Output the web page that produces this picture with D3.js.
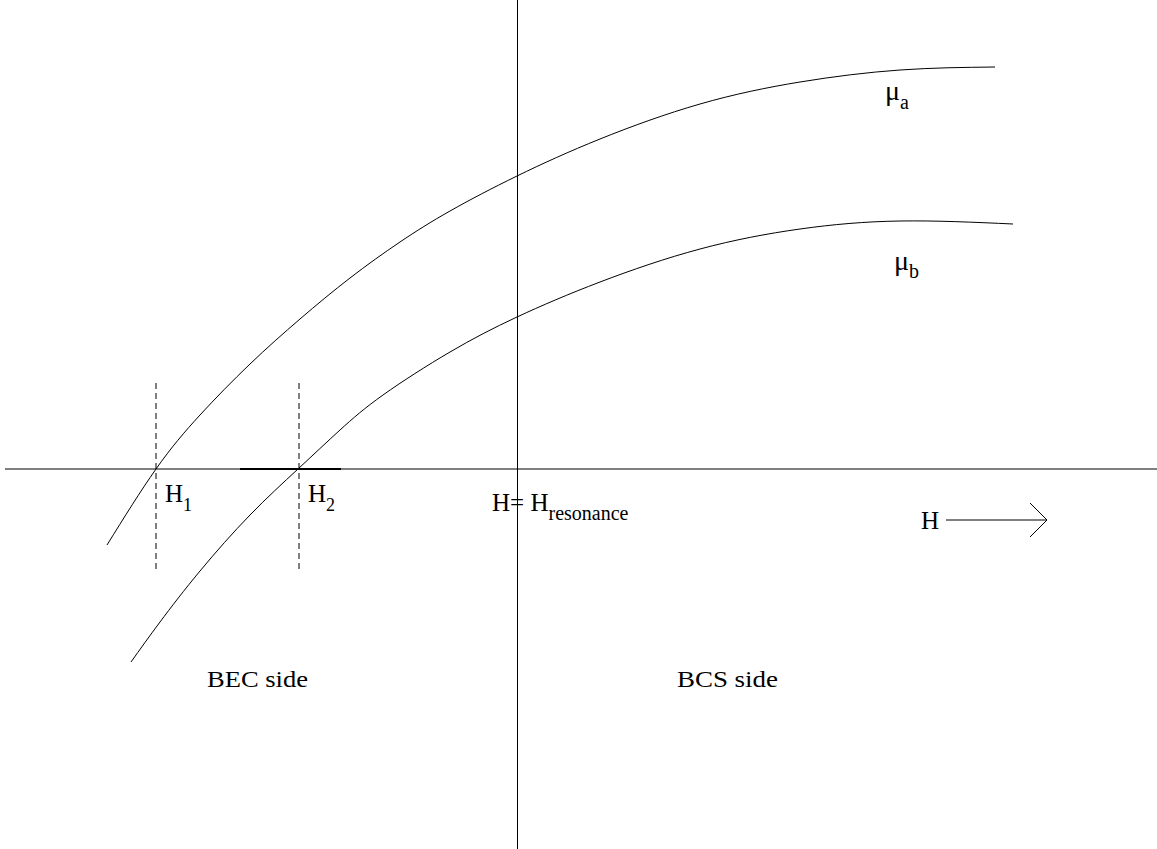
<!DOCTYPE html>
<html>
<head>
<meta charset="utf-8">
<script src="https://cdn.jsdelivr.net/npm/d3@7"></script>
<style>
    html, body { margin: 0; padding: 0; background: #fff; }
    text { font-family: "Liberation Serif", "Times New Roman", serif; fill: #000; }
</style>
</head>
<body>
<div id="contenedor"></div>
<script>
const ANCHO = 1157;
const ALTO = 849;

// H is measured from the resonance, mu from zero (both in arbitrary units)
const curvaA_H = [-4.10, -3.61, -3.17, -2.67, -2.17, -1.67, -1.17, -0.67, 0.00, 0.83, 1.83, 2.83, 3.83, 4.78];
const curvaA_mu = [-0.76, 0.00, 0.54, 1.05, 1.50, 1.91, 2.27, 2.58, 2.93, 3.30, 3.65, 3.87, 3.99, 4.02];
const curvaB_H = [-3.86, -3.57, -3.17, -2.67, -2.19, -1.77, -1.34, -0.67, 0.00, 0.83, 1.83, 2.83, 3.83, 4.96];
const curvaB_mu = [-1.93, -1.53, -1.02, -0.46, 0.00, 0.39, 0.74, 1.17, 1.52, 1.87, 2.20, 2.40, 2.48, 2.45];

const H1 = -3.61;
const H2 = -2.18;
const H_RESONANCIA = 0;
const TRAMO_GRUESO = [-2.77, -1.76];
const LIMITES_H = [-5.12, 6.40];
const GUIA_MU = [-1.03, 0.86];

const x = d3.scaleLinear().domain([-5.17, 6.40]).range([0, ANCHO]);
const y = d3.scaleLinear().domain([-3.80, 4.69]).range([ALTO, 0]);

const $svg = d3.select("#contenedor")
    .append("svg")
    .attr("width", ANCHO)
    .attr("height", ALTO);

// ejes
$svg.append("line")
    .attr("x1", x(LIMITES_H[0])).attr("x2", ANCHO)
    .attr("y1", y(0)).attr("y2", y(0))
    .attr("stroke", "#000").attr("stroke-width", 1);
$svg.append("line")
    .attr("x1", x(TRAMO_GRUESO[0])).attr("x2", x(TRAMO_GRUESO[1]))
    .attr("y1", y(0)).attr("y2", y(0))
    .attr("stroke", "#000").attr("stroke-width", 2);
$svg.append("line")
    .attr("x1", Math.round(x(H_RESONANCIA)) + 0.5).attr("x2", Math.round(x(H_RESONANCIA)) + 0.5)
    .attr("y1", 0).attr("y2", ALTO)
    .attr("stroke", "#000").attr("stroke-width", 1);

// lineas punteadas en H1 y H2
for (const h of [H1, H2]) {
    $svg.append("line")
        .attr("x1", x(h)).attr("x2", x(h))
        .attr("y1", y(GUIA_MU[1])).attr("y2", y(GUIA_MU[0]))
        .attr("stroke", "#000").attr("stroke-width", 1)
        .attr("stroke-dasharray", "6,4");
}

const linea = d3.line()
    .x(d => x(d[0]))
    .y(d => y(d[1]))
    .curve(d3.curveNatural);

const dibujarCurva = (hs, mus) => {
    $svg.append("path")
        .datum(hs.map((h, i) => [h, mus[i]]))
        .attr("d", linea)
        .attr("fill", "none")
        .attr("stroke", "#000")
        .attr("stroke-width", 1);
};
dibujarCurva(curvaA_H, curvaA_mu);
dibujarCurva(curvaB_H, curvaB_mu);

// etiquetas con subindice
const etiqueta = (px, py, base, sub, tam, tamSub, bajada) => {
    const t = $svg.append("text")
        .attr("x", px).attr("y", py)
        .attr("font-size", tam)
        .text(base);
    t.append("tspan")
        .attr("dy", bajada)
        .attr("font-size", tamSub)
        .text(sub);
};
etiqueta(165, 502, "H", "1", 25, 18, 9);
etiqueta(308, 502, "H", "2", 25, 18, 9);
etiqueta(492, 511, "H= H", "resonance", 25, 20, 9);
etiqueta(885, 100, "\u03bc", "a", 28, 20, 9);
etiqueta(894, 270, "\u03bc", "b", 28, 20, 8);

$svg.append("text").attr("x", 921).attr("y", 529).attr("font-size", 25).text("H");

// flecha de H
const flechaY = 520;
$svg.append("path")
    .attr("d", `M946,${flechaY}H1047M1030,${flechaY - 17}L1047,${flechaY}L1030,${flechaY + 17}`)
    .attr("fill", "none").attr("stroke", "#000").attr("stroke-width", 1);

$svg.append("text").attr("x", 207).attr("y", 687).attr("font-size", 24)
    .attr("textLength", 101).attr("lengthAdjust", "spacingAndGlyphs").text("BEC side");
$svg.append("text").attr("x", 677).attr("y", 687).attr("font-size", 24)
    .attr("textLength", 101).attr("lengthAdjust", "spacingAndGlyphs").text("BCS side");
</script>
</body>
</html>
